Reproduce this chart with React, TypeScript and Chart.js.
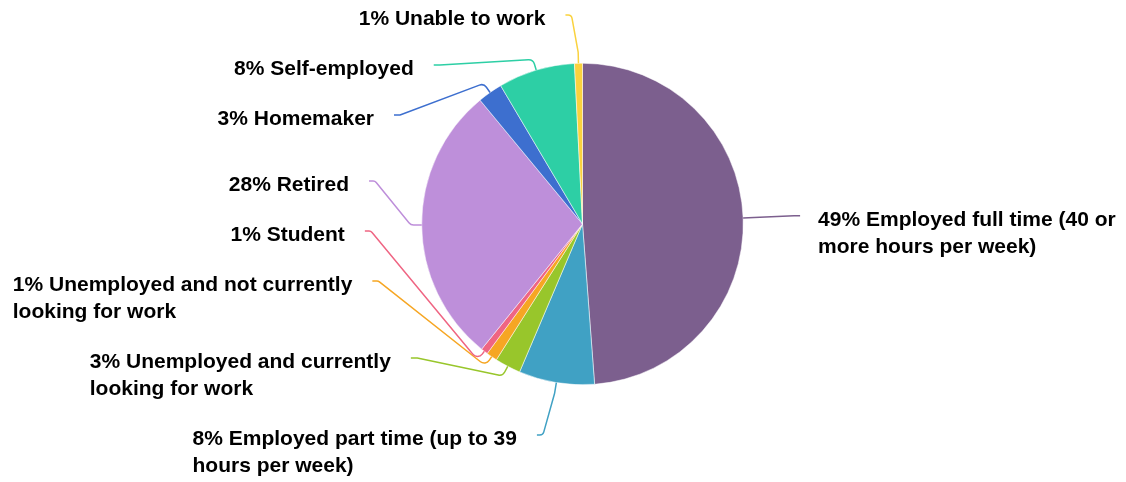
import { useEffect, useRef } from 'react';
import { Chart, registerables } from 'chart.js';

Chart.register(...registerables);

const categories = [
  'Employed full time (40 or more hours per week)',
  'Employed part time (up to 39 hours per week)',
  'Unemployed and currently looking for work',
  'Unemployed and not currently looking for work',
  'Student',
  'Retired',
  'Homemaker',
  'Self-employed',
  'Unable to work',
];

const shares = [48.8, 7.6, 2.6, 1.1, 0.7, 28.2, 2.5, 7.7, 0.8];

const colors = [
  '#7c5f8e',
  '#40a1c4',
  '#98c62b',
  '#f6a623',
  '#ef6583',
  '#be8fda',
  '#3d6fcf',
  '#2dcfa5',
  '#fad23e',
];

const FONT = "bold 21px 'Liberation Sans', Arial, Helvetica, sans-serif";
const LINE_H = 27;
const MAX_W = 345;

function wrapText(ctx: CanvasRenderingContext2D, text: string, maxW: number): string[] {
  const words = text.split(' ');
  const lines: string[] = [];
  let cur = '';
  for (const w of words) {
    const test = cur ? cur + ' ' + w : w;
    if (cur && ctx.measureText(test).width > maxW) {
      lines.push(cur);
      cur = w;
    } else {
      cur = test;
    }
  }
  if (cur) lines.push(cur);
  return lines;
}

const leaderLabels = {
  id: 'leaderLabels',
  afterDatasetsDraw(chart: any) {
    const ctx: CanvasRenderingContext2D = chart.ctx;
    const meta = chart.getDatasetMeta(0);
    const total = shares.reduce((a, b) => a + b, 0);
    ctx.save();
    ctx.font = FONT;
    const items = meta.data.map((arc: any, i: number) => {
      const p = arc.getProps(['x', 'y', 'startAngle', 'endAngle', 'outerRadius'], true);
      const mid = (p.startAngle + p.endAngle) / 2;
      const pct = Math.round((shares[i] / total) * 100);
      const lines = wrapText(ctx, `${pct}% ${categories[i]}`, MAX_W);
      const R = p.outerRadius + 57;
      return {
        i,
        cx: p.x,
        cy: p.y,
        r: p.outerRadius,
        R,
        mid,
        lines,
        desiredY: p.y + R * Math.sin(mid),
        side: Math.cos(mid) >= 0 ? 1 : -1,
        y: 0,
        ex: 0,
      };
    });
    const H = chart.height;
    const topBound = 15;
    const bottomOf = (it: any) => H - 20 - (it.lines.length - 1) * LINE_H;
    const gapOf = (it: any) => it.lines.length * LINE_H + 23;
    for (const side of [1, -1]) {
      const g = items.filter((it: any) => it.side === side).sort((a: any, b: any) => a.desiredY - b.desiredY);
      g.forEach((it: any) => {
        it.y = Math.min(Math.max(it.desiredY, topBound), bottomOf(it));
      });
      for (let k = 1; k < g.length; k++) {
        g[k].y = Math.max(g[k].y, g[k - 1].y + gapOf(g[k - 1]));
      }
      for (let k = g.length - 1; k >= 0; k--) {
        g[k].y = Math.min(g[k].y, bottomOf(g[k]));
        if (k < g.length - 1) g[k].y = Math.min(g[k].y, g[k + 1].y - gapOf(g[k]));
      }
      g.forEach((it: any) => {
        let yx = it.y;
        if (it.y === topBound && it.desiredY < topBound) yx = it.desiredY + 0.6;
        if (it.y === bottomOf(it) && it.desiredY > bottomOf(it)) yx = (it.desiredY + it.y) / 2;
        const dy = yx - it.cy;
        const dx = Math.sqrt(Math.max(it.R * it.R - dy * dy, 0));
        it.ex = it.cx + side * dx;
      });
    }
    items.forEach((it: any) => {
      const c = Math.cos(it.mid);
      const s = Math.sin(it.mid);
      const p0x = it.cx + it.r * c;
      const p0y = it.cy + it.r * s;
      const p1x = it.cx + (it.r + 11) * c;
      const p1y = it.cy + (it.r + 11) * s;
      const cX = it.ex - it.side * 6;
      ctx.beginPath();
      ctx.moveTo(p0x, p0y);
      ctx.arcTo(p1x, p1y, cX, it.y, 6);
      ctx.arcTo(cX, it.y, it.ex, it.y, 4);
      ctx.lineTo(it.ex, it.y);
      ctx.strokeStyle = colors[it.i];
      ctx.lineWidth = 1.5;
      ctx.lineJoin = 'round';
      ctx.stroke();

      ctx.fillStyle = '#000';
      ctx.textBaseline = 'middle';
      ctx.textAlign = 'left';
      const blockW = Math.max(...it.lines.map((ln: string) => ctx.measureText(ln).width));
      const tx = it.side > 0 ? it.ex + 18 : it.ex - 20 - blockW;
      it.lines.forEach((ln: string, k: number) => {
        ctx.fillText(ln, tx, it.y + 4 + k * LINE_H);
      });
    });
    ctx.restore();
  },
};

export default function App() {
  const ref = useRef<HTMLCanvasElement | null>(null);
  useEffect(() => {
    if (!ref.current) return;
    const chart = new Chart(ref.current, {
      type: 'pie',
      data: {
        labels: categories,
        datasets: [
          {
            data: shares,
            backgroundColor: colors,
            borderColor: '#ffffff',
            borderWidth: 0.5,
          },
        ],
      },
      options: {
        responsive: false,
        animation: false,
        layout: { padding: { top: 63, bottom: 97, left: 250, right: 211 } },
        plugins: {
          legend: { display: false },
          tooltip: { enabled: false },
        },
      },
      plugins: [leaderLabels],
    });
    return () => chart.destroy();
  }, []);
  return (
    <div style={{ position: 'absolute', left: 0, top: 0, width: 1126, height: 482, background: '#fff' }}>
      <canvas ref={ref} width={1126} height={482} />
    </div>
  );
}
